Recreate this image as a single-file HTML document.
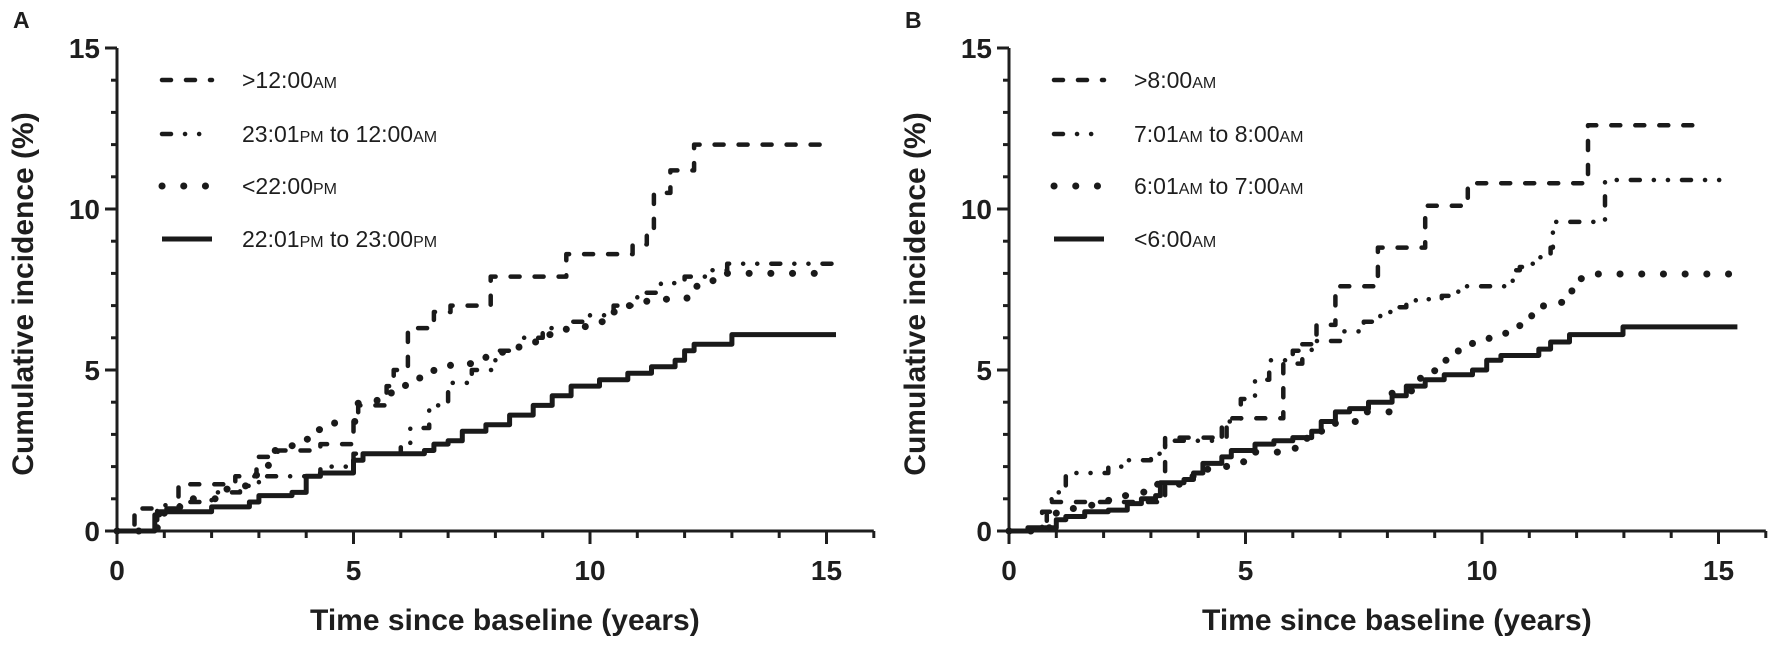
<!DOCTYPE html>
<html><head><meta charset="utf-8"><style>
html,body{margin:0;padding:0;background:#fff;}
svg text{font-family:"Liberation Sans",Arial,sans-serif;fill:#1e1e1e;}
</style></head><body>
<svg id="chart" width="1772" height="641" viewBox="0 0 1772 641" xmlns="http://www.w3.org/2000/svg"></svg>
<script>
// ---------- Panel A data ----------
const a1Times=[0.37,1.3,2.5,2.95,3.4,4.3,5.0,5.1,5.7,5.85,6.15,6.7,7.05,7.9,9.5,10.9,11.2,11.35,11.7,12.2];
const a1Vals =[0.7,1.45,1.7,2.3,2.5,2.7,3.5,3.9,4.5,5.0,6.3,6.8,7.0,7.9,8.6,8.9,9.3,10.5,11.2,12.0];
const a1End=14.9;
const a2Times=[0.85,1.5,2.0,2.6,3.0,4.3,5.0,6.0,6.2,6.6,7.0,7.5,8.0,8.5,9.0,9.5,10.0,10.5,11.0,11.5,12.0,12.5,12.9];
const a2Vals =[0.8,0.9,1.2,1.4,1.7,2.0,2.4,2.6,3.2,3.9,4.6,5.0,5.6,6.0,6.3,6.5,6.7,7.0,7.4,7.7,7.9,8.1,8.3];
const a2End=15.2;
const a3Times=[0.7,1.0,1.5,2.3,2.7,2.95,3.2,3.3,3.7,4.0,4.25,4.6,5.1,5.5,5.8,6.1,6.4,6.7,7.05,7.8,8.15,8.5,8.85,9.5,9.9,10.4,10.8,11.2,12.05,12.6];
const a3Vals =[0.1,0.75,1.0,1.3,1.4,2.0,2.3,2.5,2.65,2.85,3.15,3.4,4.0,4.2,4.3,4.55,4.75,5.0,5.2,5.45,5.55,5.85,6.1,6.3,6.5,6.8,7.0,7.2,7.6,8.0];
const a3End=15.1;
const a4Times=[0.8,0.9,2.0,2.8,3.0,3.7,4.0,4.3,5.0,5.2,6.5,6.7,7.0,7.3,7.8,8.3,8.8,9.2,9.6,10.2,10.8,11.3,11.8,12.0,12.2,13.0];
const a4Vals =[0.5,0.6,0.75,0.9,1.1,1.2,1.7,1.8,2.2,2.4,2.5,2.7,2.8,3.1,3.3,3.6,3.9,4.2,4.5,4.7,4.9,5.1,5.3,5.6,5.8,6.1];
const a4End=15.2;
// ---------- Panel B data ----------
const b1Times=[0.4,0.8,3.3,4.6,5.8,6.2,6.5,6.9,7.8,8.8,9.7,12.24];
const b1Vals =[0.1,0.9,2.9,3.5,5.2,5.8,6.4,7.6,8.8,10.1,10.8,12.6];
const b1End=14.7;
const b2Times=[0.5,0.7,0.9,1.2,2.1,2.5,3.0,3.3,4.5,4.9,5.2,5.5,6.0,6.4,7.0,7.5,7.85,8.2,8.4,8.6,9.15,9.3,9.5,10.65,10.8,11.0,11.2,11.45,11.5,12.6];
const b2Vals =[0.1,0.6,1.2,1.8,2.0,2.2,2.4,2.8,3.4,4.1,4.7,5.3,5.6,5.9,6.2,6.5,6.8,6.95,7.1,7.2,7.3,7.4,7.6,8.1,8.2,8.3,8.5,8.8,9.6,10.9];
const b2End=15.2;
const b3Times=[0.7,1.0,1.3,1.7,2.1,2.4,2.85,3.1,3.6,4.2,4.6,4.95,5.2,5.7,6.05,6.3,6.6,6.9,7.5,8.1,8.7,9.0,9.5,9.8,10.15,10.5,10.8,11.05,11.3,11.7,11.9,12.1];
const b3Vals =[0.1,0.6,0.7,0.8,0.95,1.1,1.25,1.45,1.7,1.95,2.1,2.15,2.45,2.55,2.6,3.0,3.1,3.4,3.7,4.35,4.85,5.3,5.7,5.95,6.1,6.2,6.45,6.8,7.1,7.25,7.6,7.98];
const b3End=15.3;
const b4Times=[0.4,1.0,1.2,1.6,2.1,2.5,2.8,3.1,3.2,3.7,3.9,4.1,4.5,4.7,5.2,5.6,6.0,6.4,6.6,6.9,7.2,7.6,8.1,8.4,8.8,9.2,9.8,10.1,10.4,11.2,11.45,11.85,12.98];
const b4Vals =[0.1,0.35,0.45,0.6,0.65,0.85,1.0,1.1,1.5,1.6,1.8,2.1,2.3,2.5,2.7,2.8,2.9,3.1,3.4,3.7,3.8,4.0,4.2,4.5,4.7,4.85,5.0,5.3,5.45,5.65,5.87,6.1,6.34];
const b4End=15.4;
const yTickLabels=["0","5","10","15"];
const xTickLabels=["0","5","10","15"];

const NS="http://www.w3.org/2000/svg";
const svg=document.getElementById('chart');
function mk(tag,attrs,parent){const e=document.createElementNS(NS,tag);for(const k in attrs)e.setAttribute(k,attrs[k]);(parent||svg).appendChild(e);return e;}
const Y0=531, YS=32.2, XS=47.3;
function yScale(v){return Y0-YS*v;}

const STYLES={
 dashed:{w:4.5,dash:"9 15",cap:"round"},
 dashdot:{w:4.5,dash:"9 14 0.1 14 0.1 14",cap:"round"},
 dotted:{w:7,dash:"0.1 21.6",cap:"round"},
 solid:{w:5,dash:"none",cap:"butt"}
};

function drawPanel(cfg){
 const g=mk('g',{});
 
 
 const x=t=>cfg.x0+XS*t;
 // y axis
 const ya=mk('line',{x1:x(0),y1:yScale(15),x2:x(0),y2:Y0,stroke:'#1e1e1e','stroke-width':3},g);
 
 
 for(let v=0;v<=15;v++){
  const major=v%5===0;
  mk('line',{x1:x(0)-(major?12:6),y1:yScale(v),x2:x(0),y2:yScale(v),stroke:'#1e1e1e','stroke-width':3},g);
 }
 yTickLabels.forEach((s,i)=>{
  const t=mk('text',{x:x(0)-17,y:yScale(i*5)+10,'text-anchor':'end','font-size':28,'font-weight':'bold'},g);
  t.textContent=s;
  
  
 });
 // x axis
 const xa=mk('line',{x1:x(0)-1.5,y1:Y0,x2:x(16),y2:Y0,stroke:'#1e1e1e','stroke-width':3},g);
 
 
 for(let t=0;t<=16;t++){
  const major=t%5===0;
  mk('line',{x1:x(t),y1:Y0,x2:x(t),y2:Y0+(major?13:7),stroke:'#1e1e1e','stroke-width':3},g);
 }
 xTickLabels.forEach((s,i)=>{
  const t=mk('text',{x:x(i*5),y:580,'text-anchor':'middle','font-size':28,'font-weight':'bold'},g);
  t.textContent=s;
  
  
 });
 // titles
 const xt=mk('text',{x:x(8.2),y:630,'text-anchor':'middle','font-size':30,'font-weight':'bold'},g);
 xt.textContent='Time since baseline (years)';
 
 
 const yt=mk('text',{x:0,y:0,'text-anchor':'middle','font-size':30,'font-weight':'bold',transform:`translate(${cfg.x0-84},294) rotate(-90)`},g);
 yt.textContent='Cumulative incidence (%)';
 
 
 const pl=mk('text',{x:cfg.x0-104,y:28,'font-size':23,'font-weight':'bold'},g);
 pl.textContent=cfg.label;
 
 
 // series
 cfg.series.forEach((s,i)=>{
  let d=`M${x(0)},${yScale(0)}`;let prev=0;
  s.times.forEach((tt,j)=>{d+=` H${x(tt).toFixed(1)} V${yScale(s.vals[j]).toFixed(1)}`;prev=s.vals[j];});
  d+=` H${x(s.end).toFixed(1)}`;
  const st=STYLES[s.style];
  const p=mk('path',{d:d,fill:'none',stroke:'#1a1a1a','stroke-width':st.w,'stroke-dasharray':st.dash,'stroke-linecap':st.cap,'stroke-linejoin':'round'},g);
  
  
  // legend
  const ly=[80,134,186,239][i];
  const lx=cfg.legX;
  const ls=mk('line',{x1:lx,y1:ly,x2:lx+50,y2:ly,stroke:'#1a1a1a','stroke-width':st.w,'stroke-dasharray':st.dash,'stroke-linecap':st.cap},g);
  
  
  const lt=mk('text',{x:lx+80,y:ly+8,'font-size':23,fill:'#222'},g);
  lt.innerHTML=s.label;
  
  
 });
}
const sm=t=>`<tspan font-size="16">${t}</tspan>`;
drawPanel({name:'panel-a-bedtime',label:'A',x0:117,legX:162,series:[
 {times:a1Times,vals:a1Vals,end:a1End,style:'dashed',label:'&gt;12:00'+sm('AM')},
 {times:a2Times,vals:a2Vals,end:a2End,style:'dashdot',label:'23:01'+sm('PM')+' to 12:00'+sm('AM')},
 {times:a3Times,vals:a3Vals,end:a3End,style:'dotted',label:'&lt;22:00'+sm('PM')},
 {times:a4Times,vals:a4Vals,end:a4End,style:'solid',label:'22:01'+sm('PM')+' to 23:00'+sm('PM')}
]});
drawPanel({name:'panel-b-waketime',label:'B',x0:1009,legX:1054,series:[
 {times:b1Times,vals:b1Vals,end:b1End,style:'dashed',label:'&gt;8:00'+sm('AM')},
 {times:b2Times,vals:b2Vals,end:b2End,style:'dashdot',label:'7:01'+sm('AM')+' to 8:00'+sm('AM')},
 {times:b3Times,vals:b3Vals,end:b3End,style:'dotted',label:'6:01'+sm('AM')+' to 7:00'+sm('AM')},
 {times:b4Times,vals:b4Vals,end:b4End,style:'solid',label:'&lt;6:00'+sm('AM')}
]});
</script>
</body></html>
